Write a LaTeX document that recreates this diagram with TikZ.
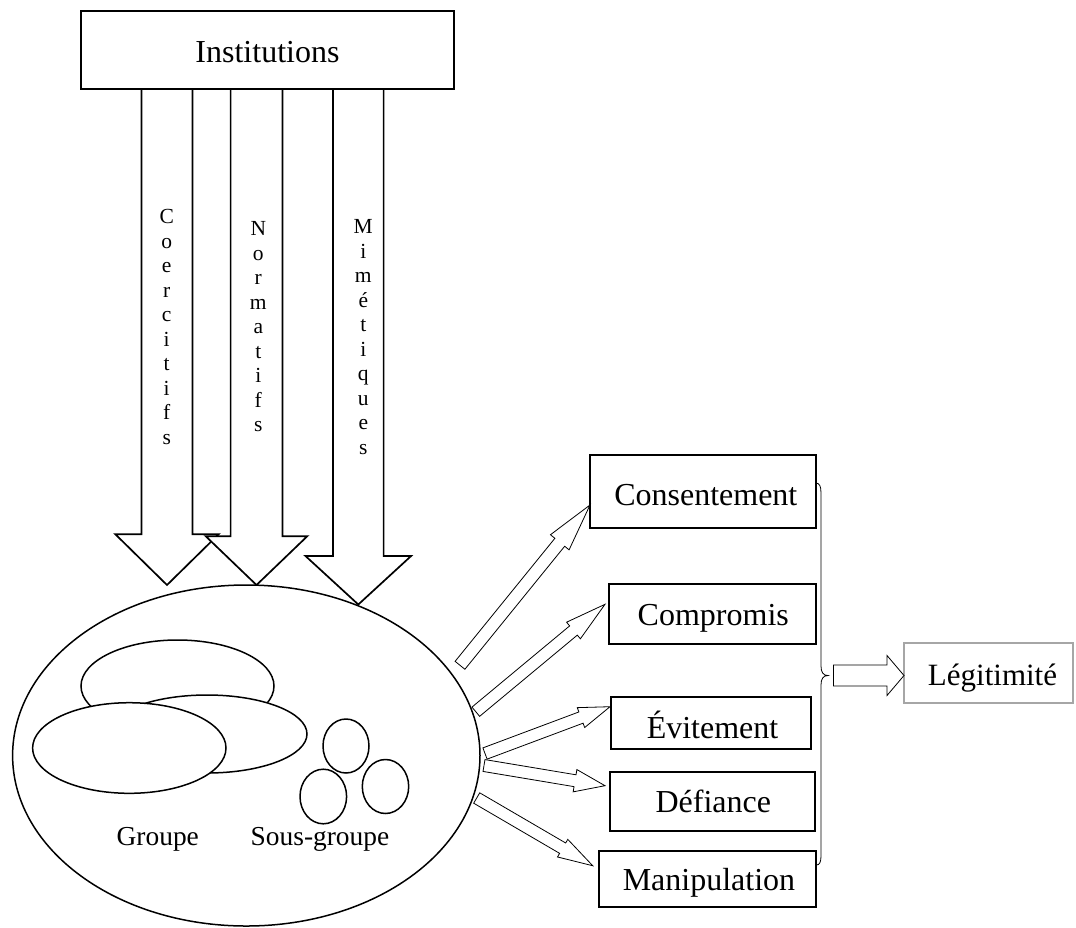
\documentclass[tikz,border=0pt]{standalone}
\usepackage{fontspec}
\setmainfont{Liberation Serif}
\usetikzlibrary{calc,shapes.geometric}
\newcommand\vletters[1]{\vtop{\baselineskip=24.5pt\lineskiplimit=-100pt\lineskip=0pt\halign{\hfil##\hfil\cr#1\crcr}}}
% #1 style, #2 tail, #3 tip, #4 shaft half width, #5 head half width, #6 head length
\newcommand\blockarrow[6][]{%
  \path ($(#3)!#6!(#2)$) coordinate (babase);
  \draw[#1] ($(#2)!#4!90:(#3)$) -- ($(babase)!#4!90:(#3)$) -- ($(babase)!#5!90:(#3)$) -- (#3)
    -- ($(babase)!#5!-90:(#3)$) -- ($(babase)!#4!-90:(#3)$) -- ($(#2)!#4!-90:(#3)$) -- cycle;
}
\definecolor{lgray}{RGB}{166,166,166}
\begin{document}
\begin{tikzpicture}[x=1pt,y=-1pt,
  bigarrow/.style={draw, fill=white, line width=1.7pt, line join=miter},
  smallarrow/.style={draw, fill=white, line width=0.8pt, line join=miter},
  box/.style={draw, line width=2pt, inner sep=0pt, rectangle, fill=white},
  oval/.style={draw, ellipse, line width=1.5pt, inner sep=0pt, fill=white},
  lbl/.style={anchor=base, inner sep=0pt, font=\fontsize{32}{38}\selectfont},
  slbl/.style={anchor=base, inner sep=0pt, font=\fontsize{27.4}{32}\selectfont},
  vlbl/.style={anchor=base, inner sep=0pt, font=\fontsize{21.5}{24.5}\selectfont}]
\useasboundingbox (0,0) rectangle (1076,927);

% big arrows from Institutions
\coordinate (t1) at (167,89);   \coordinate (p1) at (167,585);
\coordinate (t2) at (256.5,89); \coordinate (p2) at (256.5,585);
\coordinate (t3) at (358.3,89); \coordinate (p3) at (358.3,604.5);
\blockarrow[bigarrow]{t1}{p1}{25.5pt}{51.7pt}{50.8pt}
\blockarrow[bigarrow]{t2}{p2}{25.9pt}{50.8pt}{48.8pt}
\blockarrow[bigarrow]{t3}{p3}{25.3pt}{52.8pt}{48.5pt}

\node[box, minimum width=373pt, minimum height=78.3pt] (inst) at (267.5,49.85) {};
\node[lbl] (instl) at (267.5,62.7) {Institutions};

\node[vlbl] (coer) at (166.7,223.6) {\vletters{C\cr o\cr e\cr r\cr c\cr i\cr t\cr i\cr f\cr s}};
\node[vlbl] (norm) at (258.3,235.5) {\vletters{N\cr o\cr r\cr m\cr a\cr t\cr i\cr f\cr s}};
\node[vlbl] (mime) at (363.3,233.5) {\vletters{M\cr i\cr m\cr é\cr t\cr i\cr q\cr u\cr e\cr s}};

% organisation
\node[oval, minimum width=467.4pt, minimum height=341pt] (org) at (246.3,755.5) {};
\node[oval, minimum width=193pt, minimum height=92pt] (g1) at (177.5,686) {};
\node[oval, minimum width=200pt, minimum height=78pt] (g2) at (207,734) {};
\node[oval, minimum width=193.4pt, minimum height=90.6pt] (g3) at (129.3,748) {};
\node[oval, minimum width=46pt, minimum height=54pt] (s1) at (346,746) {};
\node[oval, minimum width=46.6pt, minimum height=54.6pt] (s2) at (323.3,796.5) {};
\node[oval, minimum width=46.4pt, minimum height=54pt] (s3) at (385.5,786.5) {};
\node[slbl] (grp) at (157.8,845) {Groupe};
\node[slbl] (sgrp) at (320,845) {Sous-groupe};

% response boxes
\node[box, minimum width=226pt, minimum height=73.3pt] (cons) at (703,491.65) {};
\node[lbl] (consl) at (705.8,505) {Consentement};
\node[box, minimum width=206.7pt, minimum height=60pt] (comp) at (712.35,614.3) {};
\node[lbl] (compl) at (713.3,625) {Compromis};
\node[box, minimum width=200pt, minimum height=52.6pt] (evit) at (711,723) {};
\node[lbl] (evitl) at (712.5,738.3) {Évitement};
\node[box, minimum width=205pt, minimum height=58.4pt] (defi) at (712.5,801.5) {};
\node[lbl] (defil) at (713.3,812.7) {Défiance};
\node[box, minimum width=216.7pt, minimum height=56.6pt] (mani) at (707.65,879) {};
\node[lbl] (manil) at (709,890) {Manipulation};

% small arrows
\coordinate (ta) at (460,665.3);   \coordinate (pa) at (590,505);
\coordinate (tb) at (475.8,711.7); \coordinate (pb) at (605,604.3);
\coordinate (tc) at (485,753.5);   \coordinate (pc) at (610,706.7);
\coordinate (td) at (484,765.5);   \coordinate (pd) at (605,785.7);
\coordinate (te) at (476.7,798);   \coordinate (pe) at (592.7,865.7);
\blockarrow[smallarrow]{ta}{pa}{6.3pt}{12pt}{48pt}
\blockarrow[smallarrow]{tb}{pb}{6pt}{10.8pt}{41pt}
\blockarrow[smallarrow]{tc}{pc}{6pt}{10.6pt}{31pt}
\blockarrow[smallarrow]{td}{pd}{6pt}{11.3pt}{30.4pt}
\blockarrow[smallarrow]{te}{pe}{6pt}{10.2pt}{34.8pt}

% brace
\coordinate (brtop) at (816,483);
\coordinate (brbot) at (816.5,865);
\coordinate (brtip) at (828,675.5);
\draw[line width=0.8pt] (brtop) .. controls (819.5,483.3) and (821,486) .. (821,493)
  -- (821,666) .. controls (821,672) and (823,675.5) .. (brtip)
  .. controls (823,675.5) and (821,679) .. (821,685)
  -- (821,856) .. controls (821,862) and (819.5,865) .. (brbot);

% legitimite
\node[draw=lgray, line width=2pt, inner sep=0pt, minimum width=169pt, minimum height=59.4pt] (legi) at (988.5,673) {};
\node[lbl, font=\fontsize{31}{36}\selectfont] (legil) at (992.5,685) {Légitimité};
\coordinate (lgtail) at (833.5,675.5);
\coordinate (lgtip) at (904,675.5);
\blockarrow[smallarrow]{lgtail}{lgtip}{10.5pt}{20pt}{17pt}
\end{tikzpicture}
\end{document}
